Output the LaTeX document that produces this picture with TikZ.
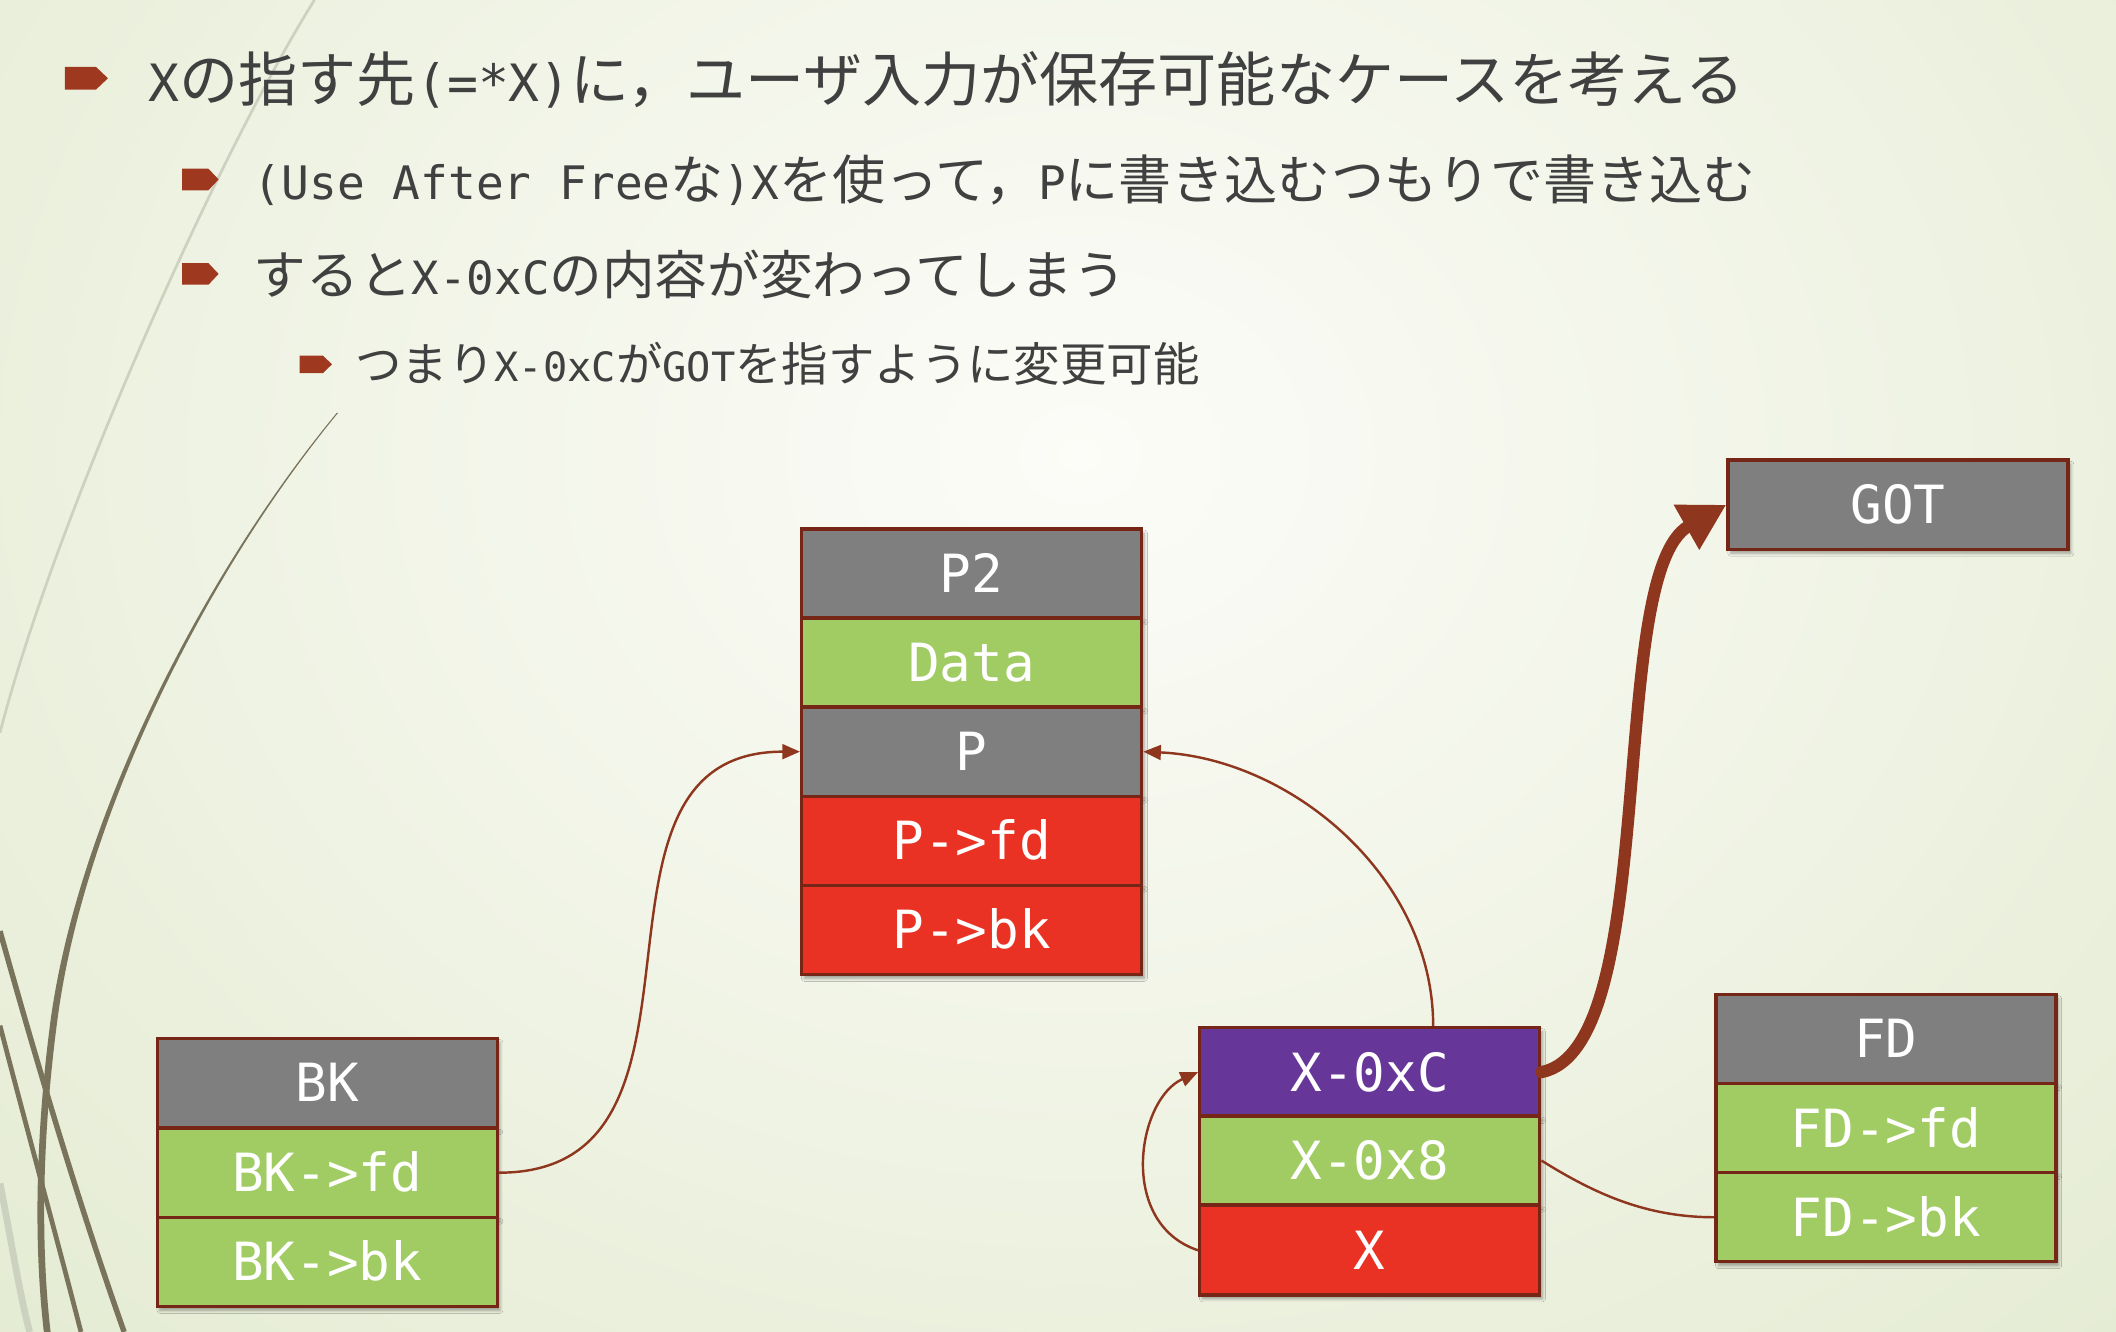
\documentclass[tikz,border=0pt]{standalone}
\usepackage{fontspec}
\setmainfont{Noto Sans CJK JP}
\newfontfamily\mn[Scale=0.87]{DejaVu Sans Mono}
\newfontfamily\bx{DejaVu Sans Mono}
\usetikzlibrary{arrows.meta,shadows.blur,calc}
\definecolor{bgin}{RGB}{252,252,248}
\definecolor{bgout}{RGB}{219,229,196}
\definecolor{bordc}{RGB}{118,38,22}
\definecolor{connc}{RGB}{142,54,30}
\definecolor{bulc}{RGB}{158,56,30}
\definecolor{tcol}{RGB}{64,64,64}
\definecolor{cgray}{RGB}{127,127,127}
\definecolor{cgreen}{RGB}{160,204,99}
\definecolor{cred}{RGB}{233,50,35}
\definecolor{cpurple}{RGB}{102,54,152}
\definecolor{swdark}{RGB}{120,115,90}
\definecolor{swlight}{RGB}{205,210,192}
\tikzset{
  cell/.style={draw=bordc, line width=2.5pt, minimum width=252pt, minimum height=66pt,
    inner sep=0pt, text=white, text height=28pt, text depth=0pt,
    font=\bx\fontsize{39}{42}\selectfont,
    blur shadow={shadow xshift=2pt, shadow yshift=-3pt, shadow blur steps=6, shadow opacity=35}},
  gcell/.style={cell, fill=cgray},
  vcell/.style={cell, fill=cgreen},
  rcell/.style={cell, fill=cred},
  pcell/.style={cell, fill=cpurple},
  conn/.style={draw=connc, line width=1.8pt},
  thintip/.style={-{Triangle[length=13pt,width=11pt]}},
  bigarrow/.style={draw=connc, line width=9pt, line cap=round, -{Triangle[length=34pt,width=36pt]}},
  bultext/.style={anchor=base west, inner sep=0pt, text=tcol},
  bul/.pic={\fill[bulc] (0,-0.5) -- (0.72,-0.5) -- (1,0) -- (0.72,0.5) -- (0,0.5) -- cycle;}
}
\begin{document}
\begin{tikzpicture}[x=1pt,y=1pt]
\useasboundingbox (0,0) rectangle (1568,987);
\begin{scope}
  \clip (0,0) rectangle (1568,987);
  \fill[bgout] (0,0) rectangle (1568,987);
  \shade[inner color=bgin, outer color=bgout] (-800,-650) rectangle (2400,1950);
  % decorative swooshes
  \draw[swlight, line width=2pt] (233,987) .. controls (160,870) and (40,600) .. (0,444);
  \draw[swlight, line width=5pt] (0,110) .. controls (8,70) and (14,30) .. (22,0);
  \fill[swdark] (249.5,681) .. controls (149.5,560) and (58,380) .. (37.5,231)
     .. controls (25.5,140) and (25.5,60) .. (32.5,0) -- (37.5,0)
     .. controls (30.5,60) and (30.5,140) .. (42.5,231)
     .. controls (62,380) and (151,560) .. (250.5,681) -- cycle;
  \draw[swdark, line width=4pt] (0,297) .. controls (30,190) and (60,90) .. (92,0);
  \draw[swdark, line width=3.5pt] (0,227) .. controls (20,150) and (42,70) .. (60,0);
\end{scope}

% bullets and text
\pic[xscale=32,yscale=17] at (48,929) {bul};
\pic[xscale=27,yscale=16] at (135,854) {bul};
\pic[xscale=27,yscale=16] at (135,784) {bul};
\pic[xscale=24,yscale=13] at (222,717) {bul};

\node[bultext, font=\fontsize{43.8}{50}\selectfont] (t1) at (110,912)
  {{\mn X}の指す先{\mn (=*X)}に，ユーザ入力が保存可能なケースを考える};
\node[bultext, font=\fontsize{39.3}{45}\selectfont] (t2) at (188,839)
  {{\mn (Use After Free}な{\mn )X}を使って，{\mn P}に書き込むつもりで書き込む};
\node[bultext, font=\fontsize{39}{45}\selectfont] (t3) at (188,769)
  {すると{\mn X-0xC}の内容が変わってしまう};
\node[bultext, font=\fontsize{34.4}{40}\selectfont] (t4) at (263,704)
  {つまり{\mn X-0xC}が{\mn GOT}を指すように変更可能};

% P2 stack
\node[gcell] (p2) at (720,562) {P2};
\node[vcell] (data) at (720,496) {Data};
\node[gcell] (p) at (720,430) {P};
\node[rcell] (pfd) at (720,364) {P->fd};
\node[rcell] (pbk) at (720,298) {P->bk};

% BK stack
\node[gcell] (bk) at (242.5,184.5) {BK};
\node[vcell] (bkfd) at (242.5,118) {BK->fd};
\node[vcell] (bkbk) at (242.5,52) {BK->bk};

% X stack
\node[pcell] (xc) at (1015,192.5) {X-0xC};
\node[vcell] (x8) at (1015,127) {X-0x8};
\node[rcell] (x) at (1015,60.5) {X};

% FD stack
\node[gcell] (fd) at (1397.5,217) {FD};
\node[vcell] (fdfd) at (1397.5,151) {FD->fd};
\node[vcell] (fdbk) at (1397.5,85) {FD->bk};

% GOT
\node[gcell] (got) at (1406.5,613) {GOT};

% connectors
\draw[conn, thintip] (bkfd.east) .. controls +(180,0) and +(-180,0) .. (p.west);
\draw[conn, thintip] ([xshift=47pt]xc.north) .. controls +(0,110) and +(110,-5) .. (p.east);
\draw[conn, thintip] (x.west) .. controls +(-60,20) and +(-45,-20) .. (xc.west);
\draw[conn] (x8.east) .. controls +(40,-25) and +(-50,0) .. (fdbk.west);
\draw[bigarrow] (xc.east) .. controls +(90,18) and +(-90,-51) .. (got.west);
\end{tikzpicture}
\end{document}
